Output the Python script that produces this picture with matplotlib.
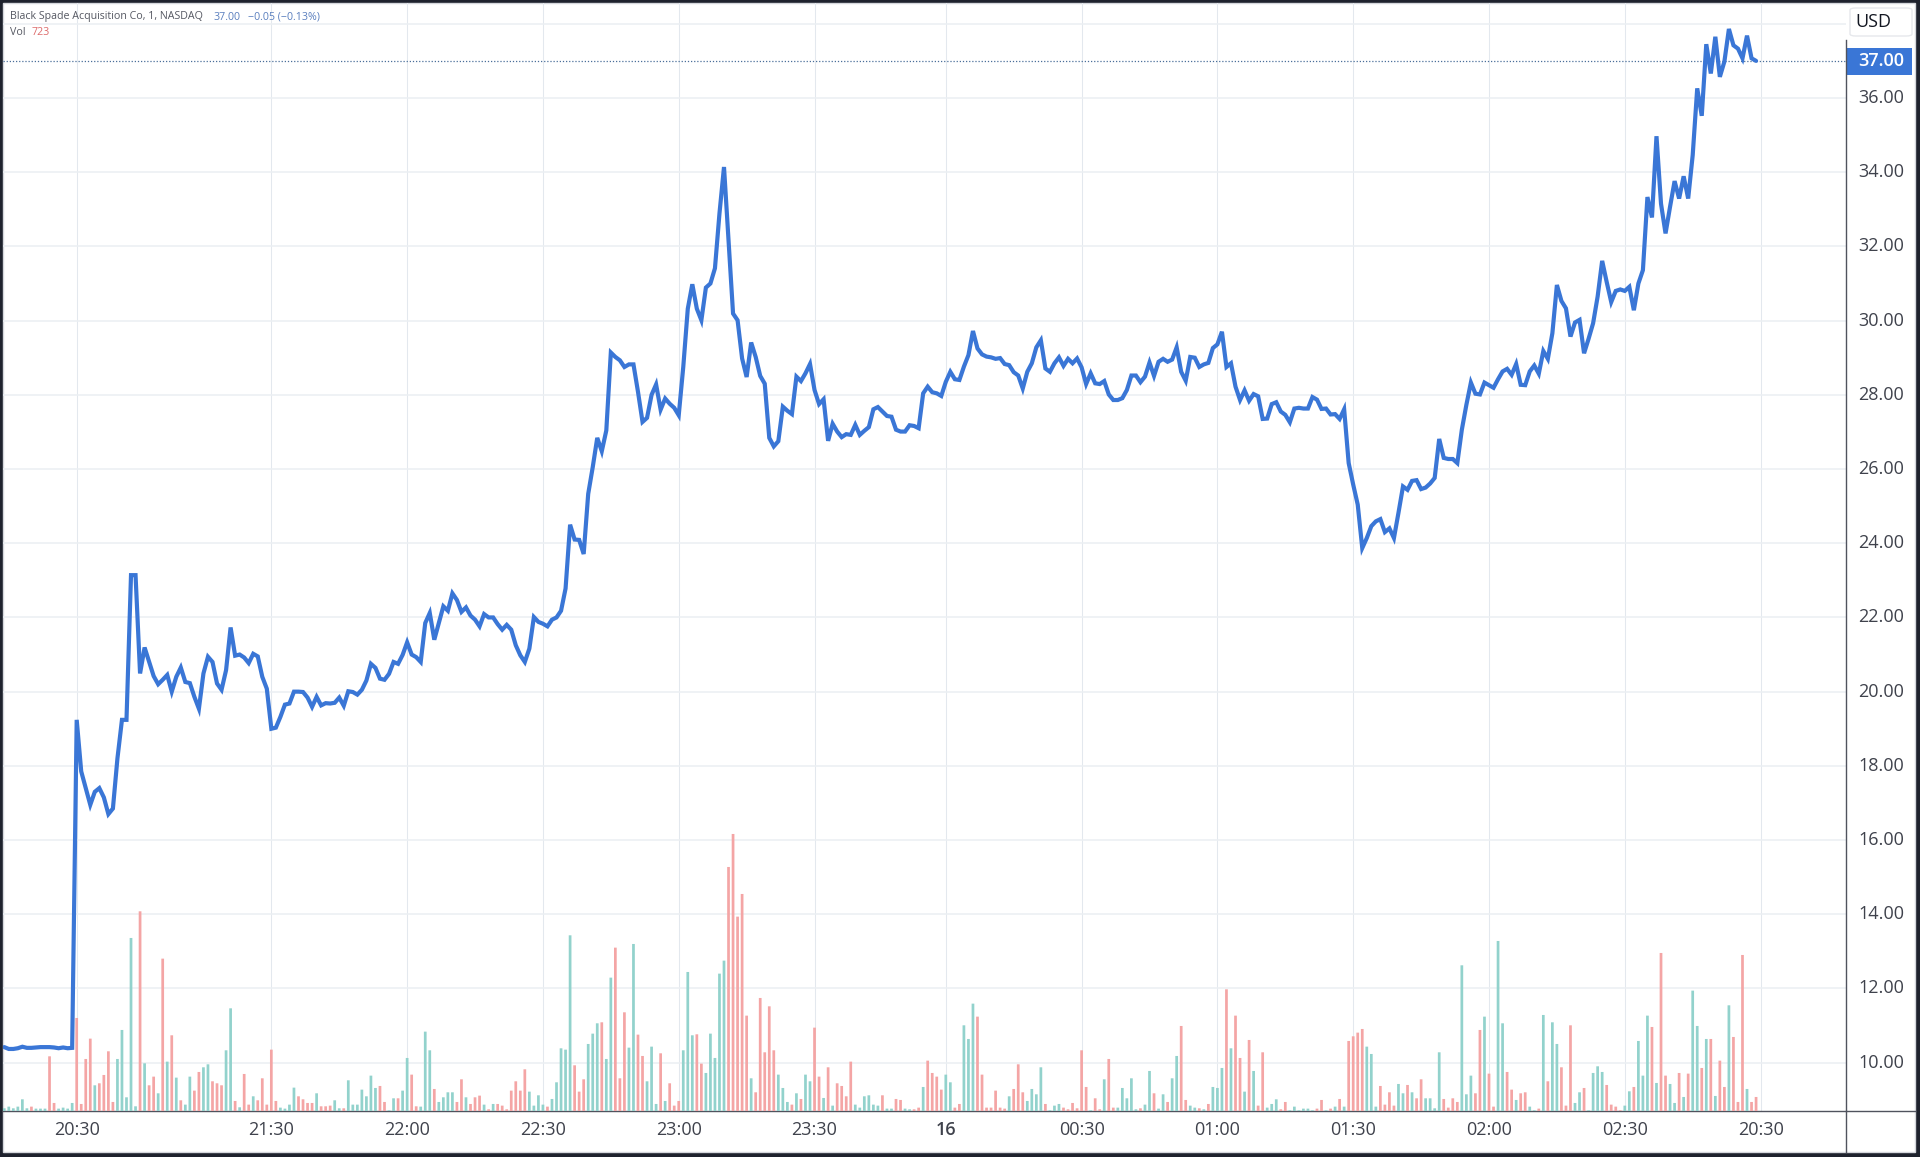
# -*- coding: utf-8 -*-
import matplotlib
matplotlib.use("Agg")
import matplotlib.pyplot as plt
from matplotlib.patches import FancyBboxPatch, Rectangle
import numpy as np

plt.rcParams['font.family'] = ['Open Sans', 'DejaVu Sans']

############################ values #######################
# one entry per minute bar, first bar sits 16 bars before the 20:30 tick
first_bar = -16

prices = [
    10.42, 10.37, 10.37, 10.39, 10.43, 10.40, 10.40, 10.41, 10.42, 10.42,
    10.42, 10.41, 10.39, 10.41, 10.39, 10.40, 19.24, 17.85, 17.40, 16.95,
    17.30, 17.40, 17.15, 16.70, 16.85, 18.20, 19.24, 19.24, 23.14, 23.14,
    20.49, 21.19, 20.80, 20.42, 20.20, 20.32, 20.45, 20.00, 20.40, 20.65,
    20.26, 20.23, 19.86, 19.54, 20.49, 20.94, 20.80, 20.22, 20.05, 20.58,
    21.73, 20.97, 21.00, 20.92, 20.77, 21.02, 20.95, 20.40, 20.08, 19.00,
    19.03, 19.32, 19.65, 19.68, 20.00, 20.00, 19.99, 19.84, 19.59, 19.86,
    19.63, 19.69, 19.68, 19.70, 19.84, 19.62, 20.01, 19.99, 19.92, 20.05,
    20.30, 20.75, 20.64, 20.35, 20.32, 20.48, 20.80, 20.75, 20.99, 21.33,
    21.00, 20.93, 20.80, 21.85, 22.12, 21.40, 21.85, 22.30, 22.18, 22.65,
    22.47, 22.15, 22.27, 22.05, 21.94, 21.76, 22.09, 22.00, 22.00, 21.82,
    21.67, 21.80, 21.67, 21.25, 20.98, 20.80, 21.16, 22.01, 21.88, 21.83,
    21.76, 21.94, 22.00, 22.18, 22.78, 24.50, 24.10, 24.09, 23.71, 25.33,
    26.05, 26.84, 26.48, 27.04, 29.14, 29.02, 28.93, 28.75, 28.82, 28.82,
    28.08, 27.27, 27.38, 28.00, 28.28, 27.60, 27.90, 27.76, 27.65, 27.45,
    28.75, 30.32, 30.98, 30.32, 30.01, 30.89, 31.00, 31.41, 32.89, 34.14,
    32.17, 30.19, 30.01, 28.98, 28.48, 29.41, 29.02, 28.51, 28.30, 26.84,
    26.61, 26.75, 27.68, 27.57, 27.48, 28.49, 28.37, 28.58, 28.83, 28.13,
    27.75, 27.88, 26.76, 27.22, 27.01, 26.86, 26.94, 26.92, 27.19, 26.92,
    27.03, 27.13, 27.61, 27.67, 27.55, 27.43, 27.41, 27.06, 27.01, 27.01,
    27.18, 27.16, 27.10, 28.04, 28.22, 28.07, 28.04, 27.97, 28.35, 28.62,
    28.42, 28.40, 28.76, 29.07, 29.72, 29.25, 29.09, 29.03, 29.01, 28.97,
    28.99, 28.83, 28.80, 28.61, 28.52, 28.17, 28.62, 28.85, 29.28, 29.47,
    28.71, 28.62, 28.85, 29.01, 28.78, 28.97, 28.85, 28.98, 28.74, 28.29,
    28.58, 28.31, 28.29, 28.37, 28.01, 27.86, 27.86, 27.91, 28.13, 28.52,
    28.52, 28.34, 28.49, 28.87, 28.51, 28.89, 28.97, 28.89, 28.95, 29.28,
    28.62, 28.38, 29.02, 29.00, 28.75, 28.82, 28.86, 29.26, 29.36, 29.70,
    28.75, 28.85, 28.22, 27.86, 28.12, 27.84, 28.02, 27.96, 27.35, 27.36,
    27.75, 27.80, 27.55, 27.46, 27.26, 27.63, 27.65, 27.63, 27.63, 27.94,
    27.87, 27.62, 27.63, 27.47, 27.48, 27.35, 27.61, 26.16, 25.58, 25.04,
    23.87, 24.14, 24.46, 24.59, 24.65, 24.30, 24.40, 24.14, 24.82, 25.53,
    25.44, 25.68, 25.70, 25.46, 25.50, 25.61, 25.76, 26.81, 26.30, 26.27,
    26.27, 26.16, 27.06, 27.73, 28.33, 28.03, 28.01, 28.33, 28.26, 28.19,
    28.42, 28.63, 28.70, 28.54, 28.83, 28.27, 28.26, 28.63, 28.79, 28.57,
    29.18, 28.97, 29.66, 30.96, 30.53, 30.33, 29.57, 29.95, 30.02, 29.12,
    29.51, 29.93, 30.65, 31.61, 31.04, 30.50, 30.80, 30.84, 30.80, 30.91,
    30.28, 31.00, 31.36, 33.33, 32.78, 34.97, 33.15, 32.35, 33.07, 33.76,
    33.29, 33.89, 33.29, 34.46, 36.26, 35.52, 37.45, 36.66, 37.65, 36.57,
    36.98, 37.86, 37.42, 37.33, 37.07, 37.68, 37.07, 37.00,
]

# bar heights as read from the crops, rough units (last bar = Vol 723)
volumes = [
    9, 14, 9, 14, 36, 9, 14, 8, 8, 8,
    165, 25, 8, 11, 8, 25, 280, 22, 157, 218,
    78, 84, 109, 180, 28, 157, 244, 42, 520, 15,
    600, 144, 78, 104, 54, 458, 149, 228, 101, 33,
    20, 104, 62, 118, 132, 141, 90, 84, 78, 183,
    309, 31, 12, 112, 20, 45, 33, 99, 20, 185,
    31, 11, 8, 20, 71, 45, 36, 25, 25, 54,
    15, 15, 17, 33, 9, 9, 93, 20, 20, 65,
    45, 107, 70, 76, 28, 3, 39, 39, 62, 160,
    110, 15, 14, 239, 183, 67, 28, 42, 57, 57,
    28, 96, 42, 22, 42, 47, 20, 6, 22, 22,
    17, 6, 62, 90, 62, 126, 59, 17, 48, 20,
    14, 37, 87, 189, 185, 528, 138, 59, 96, 202,
    233, 264, 267, 157, 401, 491, 99, 297, 191, 502,
    230, 166, 90, 194, 22, 174, 31, 84, 17, 31,
    183, 418, 228, 231, 143, 115, 233, 160, 413, 452,
    733, 832, 584, 652, 287, 99, 57, 340, 177, 315,
    183, 110, 70, 28, 20, 54, 37, 110, 90, 251,
    104, 40, 132, 17, 84, 76, 45, 149, 20, 11,
    45, 48, 20, 17, 48, 8, 8, 37, 34, 8,
    6, 6, 11, 73, 152, 115, 104, 65, 110, 87,
    11, 22, 258, 217, 323, 284, 110, 11, 11, 62,
    11, 8, 45, 67, 141, 57, 31, 67, 51, 132,
    22, 3, 17, 22, 11, 6, 25, 9, 183, 73,
    3, 39, 6, 96, 157, 11, 11, 70, 39, 99,
    6, 9, 20, 121, 54, 8, 51, 28, 99, 166,
    256, 34, 17, 11, 9, 6, 22, 73, 70, 130,
    366, 189, 287, 160, 59, 214, 121, 17, 177, 11,
    22, 36, 6, 28, 3, 14, 3, 8, 8, 3,
    8, 34, 3, 8, 14, 37, 14, 211, 225, 236,
    247, 194, 172, 14, 76, 20, 57, 17, 82, 54,
    79, 57, 39, 96, 39, 39, 9, 177, 37, 11,
    39, 28, 438, 51, 107, 54, 244, 284, 113, 14,
    511, 264, 118, 65, 34, 54, 57, 14, 3, 8,
    289, 90, 267, 202, 132, 17, 258, 25, 57, 70,
    3, 115, 135, 118, 79, 20, 14, 3, 17, 60,
    73, 211, 107, 287, 253, 85, 475, 107, 82, 25,
    115, 43, 113, 362, 256, 130, 217, 217, 46, 152,
    73, 318, 223, 28, 469, 67, 28, 43,
]

# g = up bar, r = down bar
bar_dirs = (
    "ggggggrggg" "rrggggrrrr" "grrrrggggg" "rgrrgrgrgr" "ggrrggrrrg"
    "grgrrgrrrr" "rggggrrrrg" "rrrggrgggg" "gggrrggrgg" "rrgggrgggg"
    "rrgrrrgrgr" "rrrrrrgggg" "rgggggrrrg" "ggrggrrrgg" "rrgggrgrrr"
    "gggrrggggg" "rrrrrgrrrr" "rgggrgrggr" "rgrgrrrrgg" "ggggrggrrg"
    "grrgrrrrgg" "rrgggrrrrr" "rrgrrrgggg" "rgggrrrrrr" "grrgrrgggg"
    "grggrggrgg" "rrggrgrggg" "rgrrgrgrrg" "ggrrgggggg" "rrgrgrgrrr"
    "rgggrrrrgg" "rgrrggggrr" "rrgggrrgrr" "ggrrgrrggr" "grggrrrggr"
    "ggggrrrrgg" "rgggrgrrgg" "rgrggrgrgr" "rgrrrgrr"
)

tick_bars = [0, 43, 73, 103, 133, 163, 192, 222, 252, 282, 312, 342, 372]
tick_labels = ['20:30', '21:30', '22:00', '22:30', '23:00', '23:30', '16',
               '00:30', '01:00', '01:30', '02:00', '02:30', '20:30']
price_ticks = [10, 12, 14, 16, 18, 20, 22, 24, 26, 28, 30, 32, 34, 36]
grid_prices = price_ticks + [38]
last_price = 37.00

#############################################################################
W, H = 1920, 1157
frame_col = '#1e222d'
axis_col = '#50535e'
text_col = '#3f424c'
line_col = '#3a76d6'
label_size = 13

fig = plt.figure(figsize=(W/100, H/100), dpi=100, facecolor=frame_col)

# white card inside the dark frame
card = Rectangle((3/W, 1 - 1152/H), (1915 - 3)/W, (1152 - 3)/H, transform=fig.transFigure,
                 facecolor='white', edgecolor='#d5d7dc', linewidth=1, zorder=0)
fig.add_artist(card)

left, right, top, bottom = 3, 1845.7, 3, 1111.3
ax = fig.add_axes([left/W, 1 - bottom/H, (right - left)/W, (bottom - top)/H])
ax.set_facecolor('none')
ax.set_xlim(-16.28, 390.8)
ax.set_ylim(8.69, 38.56)

bar_x = np.arange(len(prices)) + first_bar

ax.set_yticks(grid_prices)
ax.set_yticklabels([])
ax.set_xticks(tick_bars)
ax.set_xticklabels([])
ax.tick_params(length=0)
ax.grid(True, axis='x', color='#e3e8ee', linewidth=0.75)
ax.grid(True, axis='y', color='#ebeff3', linewidth=1.1)
ax.set_axisbelow(True)
for s in ['top', 'left', 'right']:
    ax.spines[s].set_visible(False)
ax.spines['bottom'].set_color(axis_col)
ax.spines['bottom'].set_linewidth(1)

# volume pane shares the price pane, its scale is only a height
vol_ax = ax.twinx()
vol_ax.set_ylim(0, 3325)
vol_ax.axis('off')
bar_cols = ['#92d2cc' if d == 'g' else '#f4a5a5' for d in bar_dirs]
bars = vol_ax.bar(bar_x, volumes, width=0.6, color=bar_cols, linewidth=0)
for b in bars:
    b.set_snap(False)

# drawn on a third layer so the price stays above the volume bars
line_ax = ax.twinx()
line_ax.set_ylim(ax.get_ylim())
line_ax.axis('off')
line_ax.axhline(last_price, color='#4a6f9a', linewidth=0.9, linestyle=(0, (1, 1.5)))
line_ax.plot(bar_x, prices, color=line_col, linewidth=3.0, solid_joinstyle='miter', solid_capstyle='round')

# tick labels and pane furniture, placed in figure pixels
def fig_text(x, y, s, **kw):
    kw.setdefault('va', 'center')
    kw.setdefault('color', text_col)
    fig.text(x/W, 1 - y/H, s, **kw)

trans = ax.get_xaxis_transform()
for b, lab in zip(tick_bars, tick_labels):
    weight = 'semibold' if lab == '16' else 'normal'
    ax.text(b, (bottom - 1130)/(bottom - top), lab, transform=trans, ha='center', va='center',
            fontsize=label_size, color=text_col, fontweight=weight, clip_on=False)

ytrans = ax.get_yaxis_transform()
for p in price_ticks:
    ax.text(1 + (1904 - right)/(right - left), p, '%.2f' % p, transform=ytrans, ha='right',
            va='center', fontsize=label_size, color=text_col, clip_on=False)

# price scale border and last price tag
fig.add_artist(plt.Line2D([right/W, right/W], [1 - 40/H, 1 - 1152/H], color=axis_col, linewidth=1))
fig.add_artist(plt.Line2D([right/W, 1915/W], [1 - bottom/H, 1 - bottom/H], color=axis_col, linewidth=1))
tag = Rectangle((1845.7/W, 1 - 75/H), (1912 - 1845.7)/W, 27/H, transform=fig.transFigure,
                facecolor='#3a76d6', edgecolor='none')
fig.add_artist(tag)
fig_text(1904, 61.5, '%.2f' % last_price, ha='right', fontsize=label_size, color='white', fontweight='semibold')

# currency button
btn = FancyBboxPatch((1850/W, 1 - 36/H), 62/W, 28/H, transform=fig.transFigure,
                     boxstyle='round,pad=0,rounding_size=0.003', mutation_aspect=H/W,
                     facecolor='white', edgecolor='#e6e8ec', linewidth=1, zorder=5)
fig.add_artist(btn)
fig_text(1873.5, 22, 'USD', ha='center', fontsize=label_size, color='#131722', zorder=6)

# legend at top left
legend_size = 7.7
fig_text(10, 17, 'Black Spade Acquisition Co, 1, NASDAQ', fontsize=legend_size, color='#555862')
fig_text(213, 17, '37.00', fontsize=legend_size, color='#5a7fbe')
fig_text(248, 17, '\u22120.05 (\u22120.13%)', fontsize=legend_size, color='#5a7fbe')
fig_text(10, 32.5, 'Vol', fontsize=legend_size, color='#555862')
fig_text(32, 32.5, '723', fontsize=legend_size, color='#dd6b6b')

plt.savefig('out.png', dpi=100, facecolor=frame_col)
